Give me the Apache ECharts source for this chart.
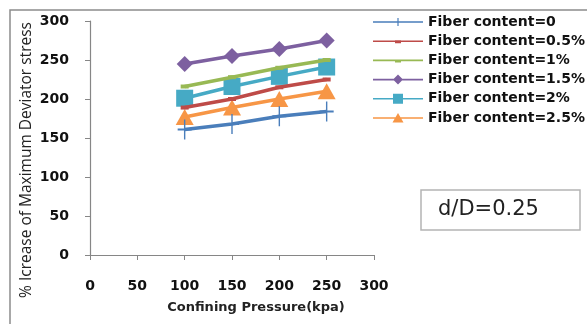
<!DOCTYPE html>
<html>
<head>
    <meta charset="UTF-8">
    <title>Deviator stress</title>
    <script src="https://cdn.jsdelivr.net/npm/echarts@6/dist/echarts.min.js"></script>
</head>
<body style="margin:0;background:#fff;">
<div id="main" style="width:587px;height:324px;"></div>
<script>
    // confining pressure (kpa)
    var pressure = [100, 150, 200, 250];
    var names = ['Fiber content=0', 'Fiber content=0.5%', 'Fiber content=1%',
        'Fiber content=1.5%', 'Fiber content=2%', 'Fiber content=2.5%'];
    var fc0 = [161, 168, 178, 184];
    var fc05 = [189, 200, 215, 225];
    var fc1 = [216, 228, 240, 250];
    var fc15 = [245, 255, 264, 275];
    var fc2 = [201, 216, 229, 241];
    var fc25 = [177, 189, 200, 210];
    var xTicks = [0, 50, 100, 150, 200, 250, 300];

    var colors = ['#4a7ebb', '#be4b48', '#98b954', '#7d60a0', '#46aac5', '#f79646'];
    var symbols = [
        'path://M9,0h2v20h-2z M0,9h20v2h-20z',
        'rect', 'rect', 'diamond', 'rect', 'triangle'
    ];
    var sizes = [[14, 20], [8, 4], [8, 4], [16, 16], [17, 17], [18, 16]];
    var values = [fc0, fc05, fc1, fc15, fc2, fc25];

    // legend icons: line + small marker, drawn in a 50x14 box
    var box = 'M0,0h0.1v0.1h-0.1z M49.9,13.9h0.1v0.1h-0.1z ';
    var line = 'M0,6.2h50v1.6h-50z ';
    var icons = [
        'path://' + box + line + 'M24.4,3h1.2v8h-1.2z',
        'path://' + box + line + 'M22,6h6v3h-6z',
        'path://' + box + line + 'M22,6h6v3h-6z',
        'path://' + box + line + 'M25,2 L30,7 L25,12 L20,7z',
        'path://' + box + line + 'M20,2h10v10h-10z',
        'path://' + box + line + 'M25,2 L30.5,11.5 L19.5,11.5z'
    ];

    function pairs(v) {
        return pressure.map(function (p, i) { return [p, v[i]]; });
    }

    var series = names.map(function (n, k) {
        return {
            name: n,
            type: 'line',
            data: pairs(values[k]),
            symbol: symbols[k],
            symbolSize: sizes[k],
            showAllSymbol: true,
            lineStyle: {width: 3.5, color: colors[k]},
            itemStyle: {color: colors[k]},
            z: 10 - k
        };
    });

    var myChart = echarts.init(document.getElementById('main'));
    myChart.setOption({
        animation: false,
        backgroundColor: '#fff',
        graphic: [{
            type: 'rect',
            shape: {x: 10, y: 10, width: 600, height: 330},
            style: {fill: 'none', stroke: '#8c8c8c', lineWidth: 1.5}
        }, {
            type: 'rect',
            shape: {x: 421, y: 190, width: 159, height: 40},
            style: {fill: '#fff', stroke: '#b4b4b4', lineWidth: 1.5}
        }, {
            type: 'text',
            x: 438,
            y: 210,
            style: {text: 'd/D=0.25', font: '21px "DejaVu Sans"', fill: '#222', verticalAlign: 'middle'}
        }, {
            type: 'text',
            x: 27,
            y: 160,
            rotation: Math.PI / 2,
            style: {
                text: '% Icrease of Maximum Deviator stress',
                font: '15.5px "Open Sans"', fill: '#222',
                align: 'center', verticalAlign: 'middle'
            }
        }, {
            type: 'text',
            x: 256,
            y: 308,
            style: {
                text: 'Confining Pressure(kpa)',
                font: 'bold 13px "DejaVu Sans"', fill: '#222',
                align: 'center', verticalAlign: 'middle'
            }
        }],
        legend: {
            data: names.map(function (n, k) { return {name: n, icon: icons[k]}; }),
            orient: 'vertical',
            left: 368,
            top: 10,
            itemWidth: 50,
            itemHeight: 14,
            itemGap: 5.2,
            textStyle: {fontFamily: 'DejaVu Sans', fontWeight: 'bold', fontSize: 14, color: '#111'}
        },
        grid: {left: 90, right: 213, top: 21, bottom: 69},
        xAxis: {
            type: 'value',
            min: xTicks[0],
            max: xTicks[xTicks.length - 1],
            interval: 50,
            axisLine: {lineStyle: {color: '#868686', width: 1.2}},
            axisTick: {length: 5, lineStyle: {color: '#868686'}},
            axisLabel: {margin: 24, fontFamily: 'DejaVu Sans', fontWeight: 'bold', fontSize: 14, color: '#111'},
            splitLine: {show: false}
        },
        yAxis: {
            type: 'value',
            min: 0,
            max: 300,
            interval: 50,
            axisLine: {show: true, lineStyle: {color: '#868686', width: 1.2}},
            axisTick: {show: true, length: 5, lineStyle: {color: '#868686'}},
            axisLabel: {margin: 21, fontFamily: 'DejaVu Sans', fontWeight: 'bold', fontSize: 14, color: '#111'},
            splitLine: {show: false}
        },
        series: series
    });
</script>
</body>
</html>
